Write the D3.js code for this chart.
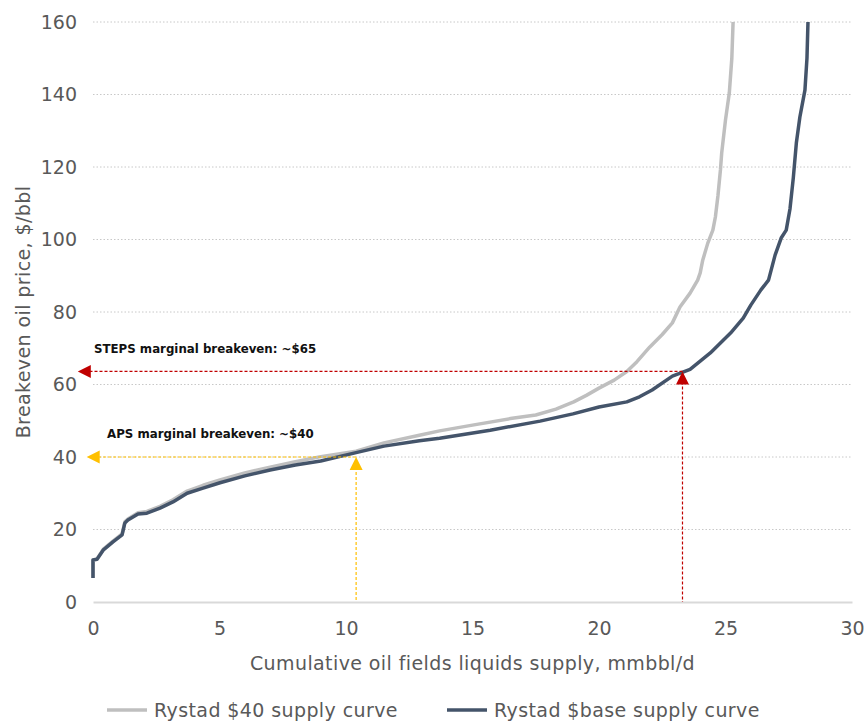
<!DOCTYPE html>
<html>
<head>
<meta charset="utf-8">
<script src="https://cdn.jsdelivr.net/npm/d3@7"></script>
<style>
  body { margin: 0; background: #fff; }
  svg { font-family: "DejaVu Sans", Lato, sans-serif; }
</style>
</head>
<body>
<script>
// supply curves: [cumulative supply mmbbl/d, breakeven $/bbl]
const rystad40 = [
  [0, 6.6], [0, 11.6], [0.16, 11.9], [0.4, 14.5], [0.79, 16.8], [1.15, 18.8], [1.26, 22.1],
  [1.38, 22.9], [1.78, 24.6], [2.13, 25.0], [2.65, 26.4], [3.16, 28.2], [3.72, 30.6],
  [4.35, 32.2], [5.02, 33.7], [6.0, 35.6], [7.0, 37.2], [8.0, 38.7], [9.0, 40.1],
  [10.4, 41.6], [11.5, 43.9], [12.9, 46.0], [13.7, 47.2], [15.0, 48.8], [16.5, 50.6],
  [17.5, 51.6], [18.3, 53.2], [19.0, 55.2], [19.5, 57.0], [20.0, 59.0], [20.6, 61.2],
  [21.1, 63.6], [21.5, 66.3], [22.0, 70.3], [22.5, 73.8], [22.9, 77], [23.2, 81.4],
  [23.6, 85.2], [23.9, 88.8], [24.0, 90.8], [24.1, 94.3], [24.3, 99.0], [24.5, 102.6],
  [24.6, 106.2], [24.7, 112], [24.8, 119.2], [24.85, 123.9], [25.0, 133], [25.15, 140.4],
  [25.25, 150], [25.3, 160]
];
const rystadBase = [
  [0, 6.6], [0, 11.6], [0.16, 11.8], [0.4, 14.3], [0.79, 16.6], [1.15, 18.5], [1.26, 21.8],
  [1.38, 22.6], [1.78, 24.3], [2.13, 24.5], [2.65, 25.9], [3.16, 27.6], [3.72, 30],
  [4.35, 31.4], [5.02, 32.9], [6.0, 34.8], [7.0, 36.4], [8.0, 37.8], [9.0, 38.9],
  [10.4, 41.2], [11.5, 43.0], [12.9, 44.5], [13.7, 45.2], [15.7, 47.4], [17.67, 49.9],
  [18.97, 51.9], [20.0, 53.8], [21.1, 55.2], [21.6, 56.6], [22.1, 58.5], [22.9, 62.3],
  [23.6, 64.2], [24.4, 68.7], [25.2, 74.2], [25.7, 78.3], [26.0, 81.9], [26.4, 86.1],
  [26.7, 88.8], [26.96, 95.7], [27.2, 100.4], [27.4, 102.6], [27.55, 108.5], [27.68, 117],
  [27.8, 126.6], [27.94, 133.8], [28.14, 141.2], [28.22, 150], [28.26, 160]
];
const xTicks = [0, 5, 10, 15, 20, 25, 30];
const yTicks = [0, 20, 40, 60, 80, 100, 120, 140, 160];
const seriesNames = ["Rystad $40 supply curve", "Rystad $base supply curve"];
// marginal breakevens: [supply, price, label]
const steps = [23.3, 63.6, "STEPS marginal breakeven: ~$65"];
const aps = [10.4, 40.0, "APS marginal breakeven: ~$40"];

const width = 867, height = 723;
const margin = { left: 93, right: 15, top: 22, bottom: 121 };
const chartW = width - margin.left - margin.right;
const chartH = height - margin.top - margin.bottom;

const svg = d3.select("body").append("svg")
  .attr("width", width)
  .attr("height", height);

const g = svg.append("g")
  .attr("transform", `translate(${margin.left},${margin.top})`);

const x = d3.scaleLinear().domain([0, 30]).range([0, chartW]);
const y = d3.scaleLinear().domain([0, 160]).range([chartH, 0]);

// gridlines
g.append("g")
  .selectAll("line")
  .data(yTicks.filter(d => d > 0))
  .enter().append("line")
  .attr("x1", 0).attr("x2", x(30))
  .attr("y1", d => y(d)).attr("y2", d => y(d))
  .attr("stroke", "#c8c8c8")
  .attr("stroke-width", 1)
  .attr("stroke-dasharray", "1.5,2");

// x axis
const xAxis = g.append("g")
  .attr("transform", `translate(0,${chartH})`)
  .call(d3.axisBottom(x).tickValues(xTicks).tickSize(0).tickPadding(20));
xAxis.select(".domain").attr("stroke", "#d9d9d9").attr("stroke-width", 2);
xAxis.selectAll("text").attr("fill", "#595959")
  .style("font-size", "19px").style("font-family", "DejaVu Sans");

// y axis
const yAxis = g.append("g")
  .call(d3.axisLeft(y).tickValues(yTicks).tickSize(0).tickPadding(16));
yAxis.select(".domain").remove();
yAxis.selectAll("text").attr("fill", "#595959")
  .style("font-size", "19px").style("font-family", "DejaVu Sans");

// axis titles
svg.append("text")
  .attr("x", margin.left + chartW / 2)
  .attr("y", 670)
  .attr("text-anchor", "middle")
  .attr("fill", "#595959")
  .style("font-size", "19px")
  .style("letter-spacing", "0.4px")
  .text("Cumulative oil fields liquids supply, mmbbl/d");

svg.append("text")
  .attr("transform", `translate(30,${margin.top + chartH / 2}) rotate(-90)`)
  .attr("text-anchor", "middle")
  .attr("fill", "#595959")
  .style("font-size", "19px")
  .style("letter-spacing", "0.4px")
  .text("Breakeven oil price, $/bbl");

// curves
const line = d3.line().x(d => x(d[0])).y(d => y(d[1]));
const colors = ["#bfbfbf", "#44546a"];

g.append("path").datum(rystad40)
  .attr("d", line).attr("fill", "none")
  .attr("stroke", colors[0]).attr("stroke-width", 3.5)
  .attr("stroke-linejoin", "round");
g.append("path").datum(rystadBase)
  .attr("d", line).attr("fill", "none")
  .attr("stroke", colors[1]).attr("stroke-width", 3.5)
  .attr("stroke-linejoin", "round");

// marginal breakeven arrows
const drawMarker = (m, color, tipX) => {
  const px = x(m[0]), py = y(m[1]);
  const tx = x(tipX);
  g.append("line")
    .attr("x1", px).attr("x2", tx + 10)
    .attr("y1", py).attr("y2", py)
    .attr("stroke", color).attr("stroke-width", 1.2)
    .attr("stroke-dasharray", "3,2");
  g.append("line")
    .attr("x1", px).attr("x2", px)
    .attr("y1", py + 10).attr("y2", y(0))
    .attr("stroke", color).attr("stroke-width", 1.2)
    .attr("stroke-dasharray", "3,2");
  // left arrowhead
  g.append("path")
    .attr("d", `M${tx},${py} L${tx + 13},${py - 6.5} L${tx + 13},${py + 6.5} Z`)
    .attr("fill", color);
  // upward arrowhead
  g.append("path")
    .attr("d", `M${px},${py} L${px - 6.5},${py + 13} L${px + 6.5},${py + 13} Z`)
    .attr("fill", color);
};
drawMarker(steps, "#c00000", -0.6);
drawMarker(aps, "#ffc000", -0.25);

svg.append("text")
  .attr("x", 94).attr("y", 353)
  .attr("fill", "#111")
  .style("font-size", "11.8px").style("font-weight", "bold")
  .text(steps[2]);
svg.append("text")
  .attr("x", 107).attr("y", 438)
  .attr("fill", "#111")
  .style("font-size", "11.8px").style("font-weight", "bold")
  .text(aps[2]);

// legend
const legendX = [107, 447];
seriesNames.forEach((name, i) => {
  svg.append("line")
    .attr("x1", legendX[i]).attr("x2", legendX[i] + 40)
    .attr("y1", 710).attr("y2", 710)
    .attr("stroke", colors[i]).attr("stroke-width", 3.5);
  svg.append("text")
    .attr("x", legendX[i] + 47).attr("y", 717)
    .attr("fill", "#595959")
    .style("font-size", "19px")
    .style("letter-spacing", "0.4px")
    .text(name);
});
</script>
</body>
</html>
